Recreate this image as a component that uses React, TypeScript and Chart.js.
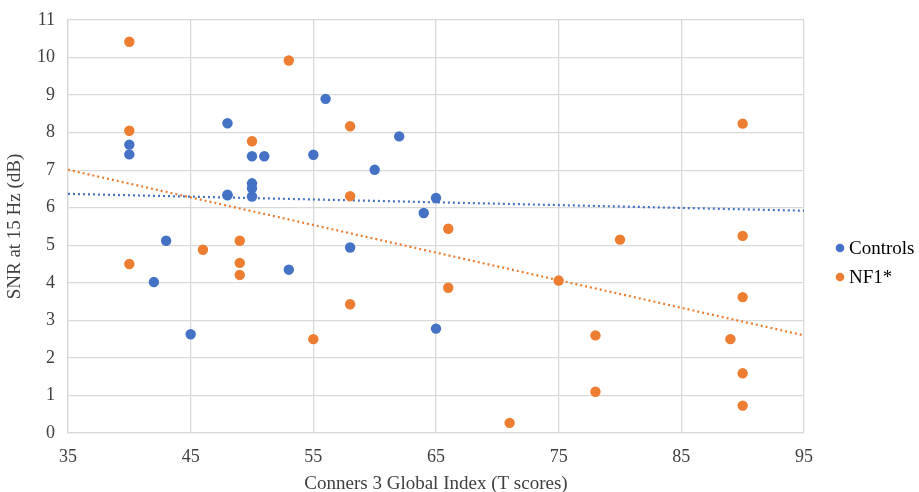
import React, { useEffect, useRef } from "react";
import { Chart, registerables } from "chart.js";

Chart.register(...registerables);

const controlsX = [40, 40, 43, 42, 45, 48, 48, 48, 50, 51, 50, 50, 50, 53, 55, 56, 58, 60, 62, 64, 65, 65];
const controlsY = [7.68, 7.42, 5.12, 4.02, 2.63, 8.25, 6.33, 6.35, 7.37, 7.37, 6.65, 6.52, 6.3, 4.35, 7.41, 8.9, 4.94, 7.01, 7.9, 5.86, 6.26, 2.78];

const nf1X = [40, 40, 40, 46, 49, 49, 49, 50, 53, 55, 58, 58, 58, 66, 66, 71, 75, 78, 78, 80, 89, 90, 90, 90, 90, 90];
const nf1Y = [10.42, 8.05, 4.5, 4.88, 5.12, 4.53, 4.21, 7.77, 9.92, 2.5, 8.17, 6.31, 3.43, 5.44, 3.87, 0.27, 4.06, 2.6, 1.1, 5.15, 2.5, 8.24, 5.25, 3.62, 1.59, 0.73];

const trendX = [35, 95];
const trendControlsY = [6.37, 5.92];
const trendNF1Y = [7.01, 2.6];

const xTicks = [35, 45, 55, 65, 75, 85, 95];
const yTickMax = 11;
const legendLabels = ["Controls", "NF1*"];

const BLUE = "#4472C4";
const ORANGE = "#ED7D31";
const FONT = "'Liberation Serif', 'Times New Roman', serif";
const TEXT = "#404040";
const GRID = "#d9d9d9";

const pts = (xs: number[], ys: number[]) => xs.map((x, i) => ({ x, y: ys[i] }));

const sideLegend = {
  id: "sideLegend",
  afterDraw(chart: any) {
    const ctx = chart.ctx;
    const area = chart.chartArea;
    const ds = chart.data.datasets.filter((d: any) => legendLabels.includes(d.label));
    const x0 = area.right + 36;
    const yMid = (area.top + area.bottom) / 2 + 36;
    const gap = 29;
    ctx.save();
    ctx.font = `19px ${FONT}`;
    ctx.textBaseline = "middle";
    ctx.textAlign = "left";
    ds.forEach((d: any, i: number) => {
      const y = yMid - (gap * (ds.length - 1)) / 2 + i * gap;
      ctx.beginPath();
      ctx.fillStyle = d.backgroundColor;
      ctx.arc(x0, y, 4.3, 0, Math.PI * 2);
      ctx.fill();
      ctx.fillStyle = "#000";
      ctx.fillText(d.label, x0 + 9, y + 1);
    });
    ctx.restore();
  },
};

export default function App() {
  const ref = useRef<HTMLCanvasElement | null>(null);
  useEffect(() => {
    if (!ref.current) return;
    const chart = new Chart(ref.current, {
      type: "scatter",
      data: {
        datasets: [
          {
            label: "Controls",
            data: pts(controlsX, controlsY),
            backgroundColor: BLUE,
            borderColor: BLUE,
            pointRadius: 5.2,
            pointHoverRadius: 5.2,
            borderWidth: 0,
            order: 2,
          },
          {
            label: "NF1*",
            data: pts(nf1X, nf1Y),
            backgroundColor: ORANGE,
            borderColor: ORANGE,
            pointRadius: 5.2,
            pointHoverRadius: 5.2,
            borderWidth: 0,
            order: 1,
          },
          {
            label: "trendControls",
            type: "line",
            data: pts(trendX, trendControlsY),
            borderColor: BLUE,
            borderWidth: 2.2,
            borderDash: [2, 3],
            pointRadius: 0,
            fill: false,
            order: 3,
          } as any,
          {
            label: "trendNF1",
            type: "line",
            data: pts(trendX, trendNF1Y),
            borderColor: ORANGE,
            borderWidth: 2.2,
            borderDash: [2, 3],
            pointRadius: 0,
            fill: false,
            order: 3,
          } as any,
        ],
      },
      options: {
        animation: false,
        responsive: false,
        maintainAspectRatio: false,
        layout: { padding: { top: 20, left: 0, right: 115, bottom: 0 } },
        plugins: {
          tooltip: { enabled: false },
          legend: { display: false },
        },
        scales: {
          x: {
            type: "linear",
            min: 35,
            max: 95,
            afterBuildTicks: (axis: any) => {
              axis.ticks = xTicks.map((v) => ({ value: v }));
            },
            afterFit: (axis: any) => {
              axis.height = 59;
              axis.paddingLeft = 0;
              axis.paddingRight = 0;
            },
            grid: { color: GRID, lineWidth: 1.3, drawTicks: false },
            border: { color: GRID, width: 1.3 },
            ticks: { color: TEXT, font: { family: FONT, size: 18 }, padding: 13 },
            title: {
              display: true,
              text: "Conners 3 Global Index (T scores)",
              color: TEXT,
              font: { family: FONT, size: 19 },
              padding: { top: 4, bottom: -3 },
            },
          },
          y: {
            type: "linear",
            min: 0,
            max: yTickMax,
            ticks: { stepSize: 1, color: TEXT, font: { family: FONT, size: 18 }, padding: 13 },
            afterFit: (axis: any) => {
              axis.width = 68;
              axis.paddingTop = 0;
              axis.paddingBottom = 0;
            },
            grid: { color: GRID, lineWidth: 1.3, drawTicks: false },
            border: { color: GRID, width: 1.3 },
            title: {
              display: true,
              text: "SNR at 15 Hz (dB)",
              color: TEXT,
              font: { family: FONT, size: 19 },
              padding: { top: 4, bottom: 4 },
            },
          },
        },
      },
      plugins: [sideLegend],
    });
    return () => chart.destroy();
  }, []);
  return (
    <div style={{ position: "fixed", left: 0, top: 0, width: 919, height: 492, background: "#fff" }}>
      <canvas ref={ref} width={919} height={492} style={{ display: "block" }} />
    </div>
  );
}
